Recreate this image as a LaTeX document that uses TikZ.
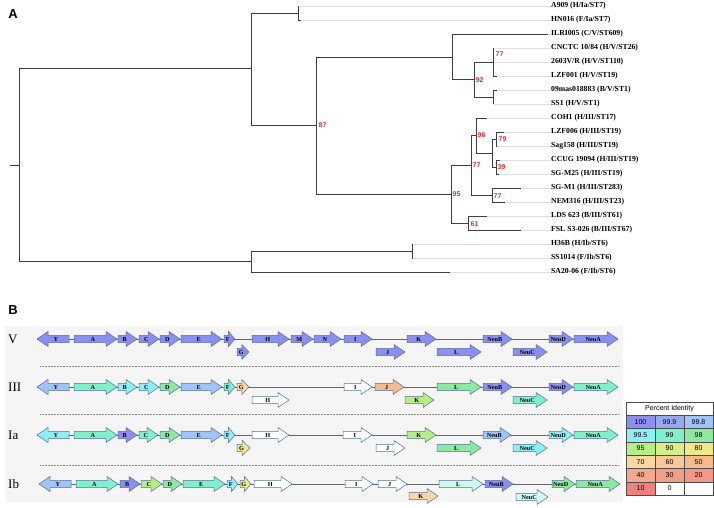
\documentclass[tikz,border=0pt]{standalone}
\usepackage{fontspec}
\setmainfont{Liberation Serif}
\setsansfont{Liberation Sans}

% percent identity colours
\definecolor{c100}{RGB}{140,142,240}
\definecolor{c999}{RGB}{152,168,240}
\definecolor{c998}{RGB}{160,196,248}
\definecolor{c995}{RGB}{142,238,246}
\definecolor{c99}{RGB}{128,240,204}
\definecolor{c98}{RGB}{142,232,160}
\definecolor{c95}{RGB}{184,238,136}
\definecolor{c90}{RGB}{214,238,136}
\definecolor{c80}{RGB}{240,232,138}
\definecolor{c70}{RGB}{250,214,160}
\definecolor{c60}{RGB}{248,200,152}
\definecolor{c50}{RGB}{246,186,144}
\definecolor{c40}{RGB}{244,168,144}
\definecolor{c30}{RGB}{244,158,138}
\definecolor{c20}{RGB}{244,150,136}
\definecolor{c10}{RGB}{240,128,128}
\definecolor{geneedge}{RGB}{84,112,160}
\definecolor{bootred}{RGB}{232,48,48}
\definecolor{panelgray}{RGB}{245,245,245}

\tikzset{
  branch/.style={draw=black!75, line width=0.8pt},
  leader/.style={draw=black!12, line width=0.4pt},
  leaf/.style={anchor=west, font=\fontsize{7.7}{8}\selectfont\bfseries, inner sep=0pt},
  boot/.style={anchor=west, font=\sffamily\bfseries\fontsize{7}{7}\selectfont, text=bootred, inner sep=0.5pt},
  panel/.style={font=\sffamily\bfseries\fontsize{13}{14}\selectfont, inner sep=0pt},
  genebox/.style={draw=geneedge, line width=0.5pt},
  genelabel/.style={font=\fontsize{6.2}{6.5}\selectfont\bfseries, inner sep=0pt},
  backbone/.style={draw=black!60, line width=0.5pt},
  sepline/.style={draw=black!45, densely dotted, line width=0.5pt},
  rowlabel/.style={font=\fontsize{13}{14}\selectfont, anchor=west, inner sep=0pt},
  cell/.style={draw=black!70, line width=0.4pt},
  celltext/.style={font=\sffamily\fontsize{7}{7}\selectfont, inner sep=0pt}
}

\begin{document}
\begin{tikzpicture}[x=1pt, y=-1pt]
\useasboundingbox (0,0) rectangle (714,507);

% gene arrows: name, start, end, row y, fill, label
\def\gene#1#2#3#4#5#6{%
  \pgfmathsetmacro\hl{min(11,0.6*(#3-#2))}%
  \pgfmathsetmacro\xb{#3-\hl}%
  \filldraw[genebox, fill=#5] (#2,#4-3.7) -- (\xb,#4-3.7) -- (\xb,#4-7.5) -- (#3,#4) -- (\xb,#4+7.5) -- (\xb,#4+3.7) -- (#2,#4+3.7) -- cycle;
  \pgfmathsetmacro\xm{(#2+#3)/2-\hl/4}%
  \node[genelabel] (#1) at (\xm,#4) {#6};}
\def\generev#1#2#3#4#5#6{%
  \pgfmathsetmacro\hl{min(11,0.6*(#3-#2))}%
  \pgfmathsetmacro\xb{#2+\hl}%
  \filldraw[genebox, fill=#5] (#3,#4-3.7) -- (\xb,#4-3.7) -- (\xb,#4-7.5) -- (#2,#4) -- (\xb,#4+7.5) -- (\xb,#4+3.7) -- (#3,#4+3.7) -- cycle;
  \pgfmathsetmacro\xm{(#2+#3)/2+\hl/4}%
  \node[genelabel] (#1) at (\xm,#4) {#6};}

%%%%%%%%%%%%%%%% Panel A: tree
\node[panel] (labA) at (13,14) {A};

% internal nodes
\coordinate (rootstub) at (10,165);
\coordinate (root) at (19,165);
\coordinate (nU) at (251,68.5);
\coordinate (nL) at (251,261.5);
\coordinate (nIa) at (298,13);
\coordinate (n87) at (316,125.5);
\coordinate (nV) at (452,57);
\coordinate (n92) at (474,79.5);
\coordinate (n77a) at (493,62);
\coordinate (nST1) at (493,97);
\coordinate (n95) at (451,194);
\coordinate (n77b) at (471,165);
\coordinate (n96) at (476,135.5);
\coordinate (n96s) at (492,153);
\coordinate (n79) at (496,139);
\coordinate (n39) at (496,167);
\coordinate (n77c) at (492,195);
\coordinate (n61) at (468,223);
\coordinate (nIb) at (412,251);

% leaf tips
\coordinate (tA909) at (298,6);
\coordinate (tHN016) at (301,20);
\coordinate (tILRI) at (548,34);
\coordinate (tCNCTC) at (493,48);
\coordinate (t2603) at (493,62);
\coordinate (tLZF001) at (497,76);
\coordinate (t09mas) at (497,90);
\coordinate (tSS1) at (493,104);
\coordinate (tCOH1) at (487,118);
\coordinate (tLZF006) at (504,132);
\coordinate (tSag158) at (497,146);
\coordinate (tCCUG) at (500,160);
\coordinate (tSGM25) at (499,174);
\coordinate (tSGM1) at (521,188);
\coordinate (tNEM316) at (505,202);
\coordinate (tLDS) at (487,216);
\coordinate (tFSL) at (521,230);
\coordinate (tH36B) at (413,244);
\coordinate (tSS1014) at (413,258);
\coordinate (tSA20) at (450,272);

% leaf labels
\node[leaf] (lA909) at (551,6) {A909 (H/Ia/ST7)};
\node[leaf] (lHN016) at (551,20) {HN016 (F/Ia/ST7)};
\node[leaf] (lILRI) at (551,34) {ILRI005 (C/V/ST609)};
\node[leaf] (lCNCTC) at (551,48) {CNCTC 10/84 (H/V/ST26)};
\node[leaf] (l2603) at (551,62) {2603V/R (H/V/ST110)};
\node[leaf] (lLZF001) at (551,76) {LZF001 (H/V/ST19)};
\node[leaf] (l09mas) at (551,90) {09mas018883 (B/V/ST1)};
\node[leaf] (lSS1) at (551,104) {SS1 (H/V/ST1)};
\node[leaf] (lCOH1) at (551,118) {COH1 (H/III/ST17)};
\node[leaf] (lLZF006) at (551,132) {LZF006 (H/III/ST19)};
\node[leaf] (lSag158) at (551,146) {Sag158 (H/III/ST19)};
\node[leaf] (lCCUG) at (551,160) {CCUG 19094 (H/III/ST19)};
\node[leaf] (lSGM25) at (551,174) {SG-M25 (H/III/ST19)};
\node[leaf] (lSGM1) at (551,188) {SG-M1 (H/III/ST283)};
\node[leaf] (lNEM316) at (551,202) {NEM316 (H/III/ST23)};
\node[leaf] (lLDS) at (551,216) {LDS 623 (B/III/ST61)};
\node[leaf] (lFSL) at (551,230) {FSL S3-026 (B/III/ST67)};
\node[leaf] (lH36B) at (551,244) {H36B (H/Ib/ST6)};
\node[leaf] (lSS1014) at (551,258) {SS1014 (F/Ib/ST6)};
\node[leaf] (lSA20) at (551,272) {SA20-06 (F/Ib/ST6)};

% leaders from tips to labels
\draw[leader] (tA909) -- (lA909.west);
\draw[leader] (tHN016) -- (lHN016.west);
\draw[leader] (tILRI) -- (lILRI.west);
\draw[leader] (tCNCTC) -- (lCNCTC.west);
\draw[leader] (t2603) -- (l2603.west);
\draw[leader] (tLZF001) -- (lLZF001.west);
\draw[leader] (t09mas) -- (l09mas.west);
\draw[leader] (tSS1) -- (lSS1.west);
\draw[leader] (tCOH1) -- (lCOH1.west);
\draw[leader] (tLZF006) -- (lLZF006.west);
\draw[leader] (tSag158) -- (lSag158.west);
\draw[leader] (tCCUG) -- (lCCUG.west);
\draw[leader] (tSGM25) -- (lSGM25.west);
\draw[leader] (tSGM1) -- (lSGM1.west);
\draw[leader] (tNEM316) -- (lNEM316.west);
\draw[leader] (tLDS) -- (lLDS.west);
\draw[leader] (tFSL) -- (lFSL.west);
\draw[leader] (tH36B) -- (lH36B.west);
\draw[leader] (tSS1014) -- (lSS1014.west);
\draw[leader] (tSA20) -- (lSA20.west);

% branches
\draw[branch] (rootstub) -- (root);
\draw[branch] (root) |- (nU);
\draw[branch] (root) |- (nL);
\draw[branch] (nU) |- (nIa);
\draw[branch] (nU) |- (n87);
\draw[branch] (nIa) |- (tA909);
\draw[branch] (nIa) |- (tHN016);
\draw[branch] (n87) |- (nV);
\draw[branch] (n87) |- (n95);
\draw[branch] (nV) |- (tILRI);
\draw[branch] (nV) |- (n92);
\draw[branch] (n92) |- (n77a);
\draw[branch] (n92) |- (nST1);
\draw[branch] (n77a) |- (tCNCTC);
\draw[branch] (n77a) |- (t2603);
\draw[branch] (n77a) |- (tLZF001);
\draw[branch] (nST1) |- (t09mas);
\draw[branch] (nST1) |- (tSS1);
\draw[branch] (n95) |- (n77b);
\draw[branch] (n95) |- (n61);
\draw[branch] (n77b) |- (n96);
\draw[branch] (n77b) |- (n77c);
\draw[branch] (n96) |- (tCOH1);
\draw[branch] (n96) |- (n96s);
\draw[branch] (n96s) |- (n79);
\draw[branch] (n96s) |- (n39);
\draw[branch] (n79) |- (tLZF006);
\draw[branch] (n79) |- (tSag158);
\draw[branch] (n39) |- (tCCUG);
\draw[branch] (n39) |- (tSGM25);
\draw[branch] (n77c) |- (tSGM1);
\draw[branch] (n77c) |- (tNEM316);
\draw[branch] (n61) |- (tLDS);
\draw[branch] (n61) |- (tFSL);
\draw[branch] (nL) |- (nIb);
\draw[branch] (nL) |- (tSA20);
\draw[branch] (nIb) |- (tH36B);
\draw[branch] (nIb) |- (tSS1014);

% bootstrap values
\node[boot] (b87) at (318,125.5) {87};
\node[boot] (b92) at (475,80) {92};
\node[boot] (b77a) at (495,54) {77};
\node[boot] (b95) at (452,194) {95};
\node[boot] (b77b) at (472,165) {77};
\node[boot] (b96) at (477,135) {96};
\node[boot] (b79) at (498,139) {79};
\node[boot] (b39) at (497,167) {39};
\node[boot] (b77c) at (493,196) {77};
\node[boot] (b61) at (470,224) {61};

%%%%%%%%%%%%%%%% Panel B: gene clusters
\node[panel] (labB) at (13,310) {B};
\fill[panelgray] (5,326) rectangle (623,502);

% row names
\node[rowlabel] (rV) at (8,339) {V};
\node[rowlabel] (rIII) at (8,387) {III};
\node[rowlabel] (rIa) at (8,435) {Ia};
\node[rowlabel] (rIb) at (8,484) {Ib};

% backbones and separators
\draw[backbone] (37,339) -- (618,339);
\draw[backbone] (37,387) -- (618,387);
\draw[backbone] (37,435) -- (618,435);
\draw[backbone] (39,484) -- (620,484);
\draw[sepline] (40,366) -- (618,366);
\draw[sepline] (40,414) -- (618,414);
\draw[sepline] (40,465) -- (618,465);

% serotype V
\generev{VY}{37}{69}{339}{c100}{Y}
\gene{VA}{74}{117}{339}{c100}{A}
\gene{VB}{118}{137}{339}{c100}{B}
\gene{VC}{139}{159}{339}{c100}{C}
\gene{VD}{160}{180}{339}{c100}{D}
\gene{VE}{181}{222}{339}{c100}{E}
\gene{VF}{224}{235}{339}{c100}{F}
\gene{VG}{237}{249}{352}{c100}{G}
\gene{VH}{252}{289}{339}{c100}{H}
\gene{VM}{291}{313}{339}{c100}{M}
\gene{VN}{314}{341}{339}{c100}{N}
\gene{VI}{344}{372}{339}{c100}{I}
\gene{VJ}{376}{405}{352}{c100}{J}
\gene{VK}{407}{436}{339}{c100}{K}
\gene{VL}{437}{481}{352}{c100}{L}
\gene{VNeuB}{483}{512}{339}{c100}{NeuB}
\gene{VNeuC}{513}{547}{352}{c100}{NeuC}
\gene{VNeuD}{549}{573}{339}{c100}{NeuD}
\gene{VNeuA}{574}{618}{339}{c100}{NeuA}

% serotype III
\generev{IIIY}{37}{69}{387}{c998}{Y}
\gene{IIIA}{74}{117}{387}{c99}{A}
\gene{IIIB}{118}{137}{387}{c995}{B}
\gene{IIIC}{139}{159}{387}{c995}{C}
\gene{IIID}{160}{180}{387}{c98}{D}
\gene{IIIE}{181}{222}{387}{c998}{E}
\gene{IIIF}{224}{235}{387}{c99}{F}
\gene{IIIG}{237}{249}{387}{c70}{G}
\gene{IIIH}{252}{289}{400}{white}{H}
\gene{IIII}{344}{372}{387}{white}{I}
\gene{IIIJ}{375}{404}{387}{c50}{J}
\gene{IIIK}{405}{434}{400}{c95}{K}
\gene{IIIL}{437}{481}{387}{c98}{L}
\gene{IIINeuB}{483}{512}{387}{c100}{NeuB}
\gene{IIINeuC}{513}{547}{400}{c99}{NeuC}
\gene{IIINeuD}{549}{573}{387}{c100}{NeuD}
\gene{IIINeuA}{574}{618}{387}{c99}{NeuA}

% serotype Ia
\generev{IaY}{37}{69}{435}{c995}{Y}
\gene{IaA}{74}{117}{435}{c99}{A}
\gene{IaB}{118}{137}{435}{c100}{B}
\gene{IaC}{139}{158}{435}{c99}{C}
\gene{IaD}{160}{180}{435}{c98}{D}
\gene{IaE}{181}{222}{435}{c998}{E}
\gene{IaF}{224}{235}{435}{c995}{F}
\gene{IaG}{237}{250}{448}{c80}{G}
\gene{IaH}{252}{289}{435}{white}{H}
\gene{IaI}{343}{372}{435}{white}{I}
\gene{IaJ}{376}{405}{448}{white}{J}
\gene{IaK}{407}{436}{435}{c95}{K}
\gene{IaL}{437}{481}{448}{c98}{L}
\gene{IaNeuB}{483}{511}{435}{c998}{NeuB}
\gene{IaNeuC}{513}{547}{448}{c995}{NeuC}
\gene{IaNeuD}{549}{573}{435}{c995}{NeuD}
\gene{IaNeuA}{574}{618}{435}{c99}{NeuA}

% serotype Ib
\generev{IbY}{39}{71}{484}{c998}{Y}
\gene{IbA}{76}{118}{484}{c99}{A}
\gene{IbB}{120}{140}{484}{c100}{B}
\gene{IbC}{141}{162}{484}{c95}{C}
\gene{IbD}{163}{182}{484}{c98}{D}
\gene{IbE}{183}{225}{484}{c99}{E}
\gene{IbF}{227}{238}{484}{c995}{F}
\gene{IbG}{240}{251}{484}{c80}{G}
\gene{IbH}{254}{292}{484}{white}{H}
\gene{IbI}{345}{373}{484}{white}{I}
\gene{IbJ}{378}{407}{484}{white}{J}
\gene{IbK}{409}{438}{496}{c70}{K}
\gene{IbL}{439}{483}{484}{c99!40}{L}
\gene{IbNeuB}{485}{513}{484}{c100}{NeuB}
\gene{IbNeuC}{516}{548}{497}{c995!40}{NeuC}
\gene{IbNeuD}{552}{575}{484}{c98}{NeuD}
\gene{IbNeuA}{576}{620}{484}{c98}{NeuA}

% percent identity key
\draw[cell, fill=white] (626,402) rectangle (713,415);
\node[celltext] (keyhead) at (669.5,408.5) {Percent Identity};
\draw[cell, fill=c100] (626,415) rectangle (655,428.3);
\draw[cell, fill=c999] (655,415) rectangle (684,428.3);
\draw[cell, fill=c998] (684,415) rectangle (713,428.3);
\draw[cell, fill=c995] (626,428.3) rectangle (655,441.7);
\draw[cell, fill=c99] (655,428.3) rectangle (684,441.7);
\draw[cell, fill=c98] (684,428.3) rectangle (713,441.7);
\draw[cell, fill=c95] (626,441.7) rectangle (655,455);
\draw[cell, fill=c90] (655,441.7) rectangle (684,455);
\draw[cell, fill=c80] (684,441.7) rectangle (713,455);
\draw[cell, fill=c70] (626,455) rectangle (655,468.3);
\draw[cell, fill=c60] (655,455) rectangle (684,468.3);
\draw[cell, fill=c50] (684,455) rectangle (713,468.3);
\draw[cell, fill=c40] (626,468.3) rectangle (655,481.7);
\draw[cell, fill=c30] (655,468.3) rectangle (684,481.7);
\draw[cell, fill=c20] (684,468.3) rectangle (713,481.7);
\draw[cell, fill=c10] (626,481.7) rectangle (655,495);
\draw[cell, fill=white] (655,481.7) rectangle (684,495);
\draw[cell, fill=white] (684,481.7) rectangle (713,495);
\node[celltext] (k100) at (640.5,421.7) {100};
\node[celltext] (k999) at (669.5,421.7) {99.9};
\node[celltext] (k998) at (698.5,421.7) {99.8};
\node[celltext] (k995) at (640.5,435) {99.5};
\node[celltext] (k99) at (669.5,435) {99};
\node[celltext] (k98) at (698.5,435) {98};
\node[celltext] (k95) at (640.5,448.3) {95};
\node[celltext] (k90) at (669.5,448.3) {90};
\node[celltext] (k80) at (698.5,448.3) {80};
\node[celltext] (k70) at (640.5,461.7) {70};
\node[celltext] (k60) at (669.5,461.7) {60};
\node[celltext] (k50) at (698.5,461.7) {50};
\node[celltext] (k40) at (640.5,475) {40};
\node[celltext] (k30) at (669.5,475) {30};
\node[celltext] (k20) at (698.5,475) {20};
\node[celltext] (k10) at (640.5,488.3) {10};
\node[celltext] (k0) at (669.5,488.3) {0};
\end{tikzpicture}
\end{document}
